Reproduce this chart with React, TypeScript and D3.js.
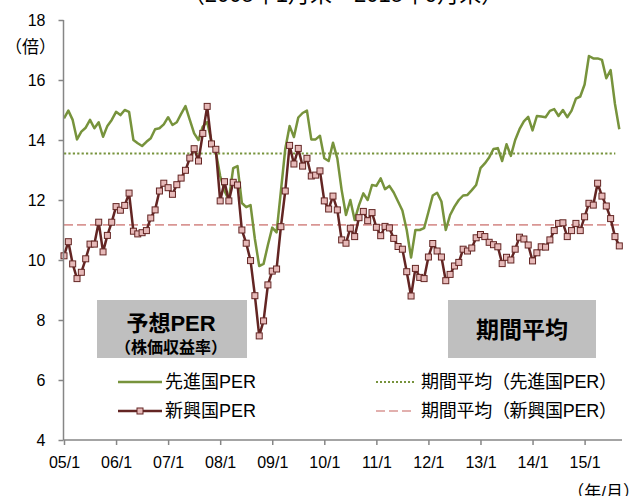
import * as d3 from 'd3'
import { useRef, useEffect } from 'react'

// 2005/1 .. 2015/9 monthly, forward PER
const developed = [
  14.72, 14.98, 14.67, 14.02, 14.28, 14.41, 14.67, 14.39, 14.59, 14.11, 14.47, 14.67,
  14.94, 14.83, 15.0, 14.94, 14.0, 13.89, 13.8, 13.94, 14.06, 14.36, 14.39, 14.52,
  14.76, 14.5, 14.59, 14.87, 15.13, 14.67, 14.22, 14.0, 14.45, 14.6, 13.95, 13.6,
  12.8, 12.3, 12.0, 13.06, 13.13, 11.9, 11.76, 11.83, 10.7, 9.8, 9.87, 10.5,
  11.08, 10.92, 12.3, 13.7, 14.47, 14.1, 14.75, 14.9, 14.98, 14.02, 14.02, 14.14,
  13.39, 13.3, 13.91, 13.39, 12.33, 11.5, 12.0, 11.33, 11.83, 12.22, 12.0, 12.5,
  12.47, 12.72, 12.36, 12.47, 12.25, 11.95, 11.65, 11.0, 10.08, 11.0, 11.0, 11.06,
  11.6, 12.15, 12.24, 11.95, 11.0, 11.5, 11.78, 12.0, 12.15, 12.17, 12.33, 12.5,
  13.06, 13.22, 13.42, 13.7, 13.73, 13.3, 13.86, 13.47, 14.0, 14.36, 14.62, 14.77,
  14.32, 14.8, 14.78, 14.76, 14.97, 15.03, 14.8, 15.0, 14.76, 14.98, 15.38, 15.45,
  15.85, 16.8, 16.72, 16.72, 16.67, 16.06, 16.33, 15.2, 14.36
];
const emerging = [
  10.14, 10.61, 9.87, 9.38, 9.59, 10.04, 10.53, 10.53, 11.26, 10.27, 10.82, 11.26,
  11.78, 11.66, 11.82, 12.23, 10.96, 10.87, 10.91, 10.98, 11.4, 11.67, 12.3, 12.56,
  12.41, 12.19, 12.51, 12.73, 12.99, 13.4, 13.71, 13.3, 14.22, 15.12, 13.87, 13.69,
  11.97, 12.61, 11.97, 12.59, 12.5, 11.0, 10.56, 9.98, 8.81, 7.47, 7.97, 9.17,
  9.63, 9.7, 11.11, 12.3, 13.82, 13.2, 13.72, 13.13, 13.39, 12.8, 12.83, 12.97,
  11.97, 11.7, 12.13, 11.67, 10.67, 10.56, 11.06, 10.78, 11.41, 11.62, 11.31, 11.58,
  11.09, 10.81, 11.12, 11.07, 10.72, 10.45, 10.36, 9.61, 8.8, 9.72, 9.42, 9.38,
  10.1, 10.55, 10.3, 10.1, 9.31, 9.52, 9.8, 9.92, 10.36, 10.3, 10.4, 10.74,
  10.85, 10.78, 10.59, 10.51, 10.44, 9.88, 10.09, 10.0, 10.36, 10.76, 10.7, 10.5,
  9.97, 10.24, 10.44, 10.43, 10.67, 10.98, 11.22, 11.24, 10.78, 10.98, 11.22, 10.98,
  11.44, 11.89, 11.83, 12.56, 12.13, 11.8, 11.38, 10.78, 10.47
];
const developedAvg = 13.55;
const emergingAvg = 11.17;
const yearLabels = ['05/1', '06/1', '07/1', '08/1', '09/1', '10/1', '11/1', '12/1', '13/1', '14/1', '15/1'];
const yTicks = [4, 6, 8, 10, 12, 14, 16, 18];

const FONT = "'Liberation Sans', 'Noto Sans CJK JP', sans-serif";
const GREEN = '#77933C';
const MAROON = '#632523';
const PINK = '#E6B9B8';
const DASH = '#D99694';
const AXIS = '#868686';

export default function App() {
  const yAxisRef = useRef<SVGGElement>(null);
  const xAxisRef = useRef<SVGGElement>(null);

  const x = d3.scaleLinear().domain([0, 120]).range([64, 584.6]);
  const y = d3.scaleLinear().domain([4, 18]).range([440, 20]);
  const lastIdx = developed.length - 1;

  const line = d3.line<number>().x((_, i) => x(i)).y(d => y(d));

  useEffect(() => {
    const yAxis = d3.axisLeft(y).tickValues(yTicks).tickSize(5).tickSizeOuter(0).tickPadding(13);
    const gy = d3.select(yAxisRef.current!).call(yAxis);
    const xAxis = d3.axisBottom(x)
      .tickValues(yearLabels.map((_, i) => i * 12))
      .tickFormat((_, i) => yearLabels[i])
      .tickSize(5).tickSizeOuter(0).tickPadding(12);
    const gx = d3.select(xAxisRef.current!).call(xAxis);
    [gy, gx].forEach(g => {
      g.select('.domain').remove();
      g.selectAll('line').attr('stroke', AXIS).attr('stroke-width', 1.5);
      g.selectAll('text').attr('fill', '#000').style('font-size', '16px').style('font-family', FONT);
    });
  }, []);

  return (
    <div style={{ position: 'absolute', left: 0, top: 0 }}>
      <svg width={640} height={496} style={{ display: 'block', fontFamily: FONT }}>
        <text x={343} y={2} textAnchor="middle" fontSize={22}>（2005年1月末～2015年9月末）</text>

        {/* gray labels */}
        <rect x={97} y={300} width={150} height={58} fill="#BFBFBF" />
        <text x={171} y={331} textAnchor="middle" fontSize={22} fontWeight="bold">予想PER</text>
        <text x={171} y={353} textAnchor="middle" fontSize={16} fontWeight="bold">（株価収益率）</text>
        <rect x={448} y={300} width={148} height={58} fill="#BFBFBF" />
        <text x={522} y={338} textAnchor="middle" fontSize={23} fontWeight="bold">期間平均</text>

        {/* averages */}
        <line x1={x(0)} x2={x(lastIdx) - 4} y1={y(developedAvg)} y2={y(developedAvg)}
          stroke={GREEN} strokeWidth={2.2} strokeDasharray="2.2,2.2" />
        <line x1={x(0)} x2={x(lastIdx)} y1={y(emergingAvg)} y2={y(emergingAvg)}
          stroke={DASH} strokeWidth={1.6} strokeDasharray="9,4" />

        {/* series */}
        <path d={line(developed) ?? ''} fill="none" stroke={GREEN} strokeWidth={2.5} strokeLinejoin="round" />
        <path d={line(emerging) ?? ''} fill="none" stroke={MAROON} strokeWidth={2.5} strokeLinejoin="round" />
        {emerging.map((d, i) => (
          <rect key={i} x={x(i) - 3} y={y(d) - 3} width={6} height={6} fill={PINK} stroke={MAROON} strokeWidth={1} />
        ))}

        {/* axes */}
        <line x1={63.5} x2={63.5} y1={20} y2={440} stroke={AXIS} strokeWidth={1.5} />
        <line x1={63.5} x2={622} y1={440} y2={440} stroke={AXIS} strokeWidth={1.5} />
        <g ref={yAxisRef} transform="translate(63.5,0)" />
        <g ref={xAxisRef} transform="translate(0,440)" />
        <text x={5} y={53} fontSize={17}>（倍）</text>
        <text x={640} y={498} textAnchor="end" fontSize={17}>（年/月）</text>

        {/* legend */}
        <g fontSize={18}>
          <line x1={118} x2={162} y1={382} y2={382} stroke={GREEN} strokeWidth={2.5} />
          <text x={165} y={388}>先進国PER</text>
          <line x1={118} x2={162} y1={411} y2={411} stroke={MAROON} strokeWidth={2.5} />
          <rect x={137} y={408} width={6} height={6} fill={PINK} stroke={MAROON} strokeWidth={1} />
          <text x={165} y={417}>新興国PER</text>
          <line x1={376} x2={415} y1={382} y2={382} stroke={GREEN} strokeWidth={2} strokeDasharray="2,2" />
          <text x={421} y={388} textLength={196}>期間平均（先進国PER）</text>
          <line x1={376} x2={413} y1={411} y2={411} stroke={DASH} strokeWidth={1.6} strokeDasharray="9,4" />
          <text x={421} y={417} textLength={196}>期間平均（新興国PER）</text>
        </g>
      </svg>
    </div>
  );
}
